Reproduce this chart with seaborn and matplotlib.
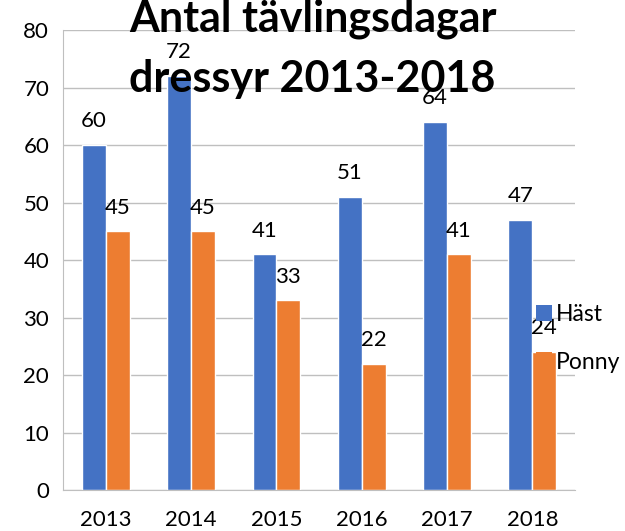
import matplotlib
matplotlib.use("Agg")
import matplotlib.pyplot as plt
import seaborn as sns
import pandas as pd
import numpy as np

years = ["2013", "2014", "2015", "2016", "2017", "2018"]
hast = [60, 72, 41, 51, 64, 47]
ponny = [45, 45, 33, 22, 41, 24]
series_names = ["Häst", "Ponny"]
colors = ["#4472C4", "#ED7D31"]

df = pd.DataFrame({
    "year": years * 2,
    "value": hast + ponny,
    "serie": [series_names[0]] * len(years) + [series_names[1]] * len(years),
})

sns.set_style("white")
plt.rcParams["font.family"] = ["Lato", "DejaVu Sans"]
plt.rcParams["text.color"] = "black"
plt.rcParams["xtick.labelcolor"] = "black"
plt.rcParams["ytick.labelcolor"] = "black"

fig = plt.figure(figsize=(6.25, 5.31), dpi=100)
ax = fig.add_axes([0.101, 0.077, 0.819, 0.866])

sns.barplot(data=df, x="year", y="value", hue="serie", palette=colors,
            width=0.56, saturation=1, ax=ax, legend=True)

for cont in ax.containers:
    for bar in cont:
        h = bar.get_height()
        ax.annotate(f"{h:.0f}", (bar.get_x() + bar.get_width() / 2, h),
                    xytext=(0, 10), textcoords="offset points",
                    ha="center", va="bottom", fontsize=16)

ax.set_ylim(0, 80)
ax.set_xlim(-0.5, len(years) - 0.5)
ax.set_yticks(np.arange(0, 81, 10))
ax.yaxis.grid(True, color="#BFBFBF", linewidth=1)
ax.set_axisbelow(True)
ax.set_xlabel("")
ax.set_ylabel("")
ax.tick_params(axis="both", labelsize=16, length=0, pad=10)
ax.set_xticks(np.arange(-0.5, len(years)), minor=True)
ax.tick_params(axis="x", which="minor", length=6, color="#BFBFBF", width=1)
ax.tick_params(axis="x", which="major", pad=14)
for s in ["top", "right"]:
    ax.spines[s].set_visible(False)
for s in ["left", "bottom"]:
    ax.spines[s].set_color("#BFBFBF")

leg = ax.legend(loc="center left", bbox_to_anchor=(0.905, 0.33), frameon=False,
                fontsize=16.5, handlelength=0.7, handleheight=0.7,
                handletextpad=0.2, labelspacing=1.15, borderaxespad=0)
for h in leg.legend_handles:
    h.set_edgecolor("none")

fig.text(0.5, 0.908, "Antal tävlingsdagar\ndressyr 2013-2018", ha="center",
         va="center", fontsize=31, fontweight="bold", linespacing=1.6,
         color="black")

fig.savefig("out.png", dpi=100)
